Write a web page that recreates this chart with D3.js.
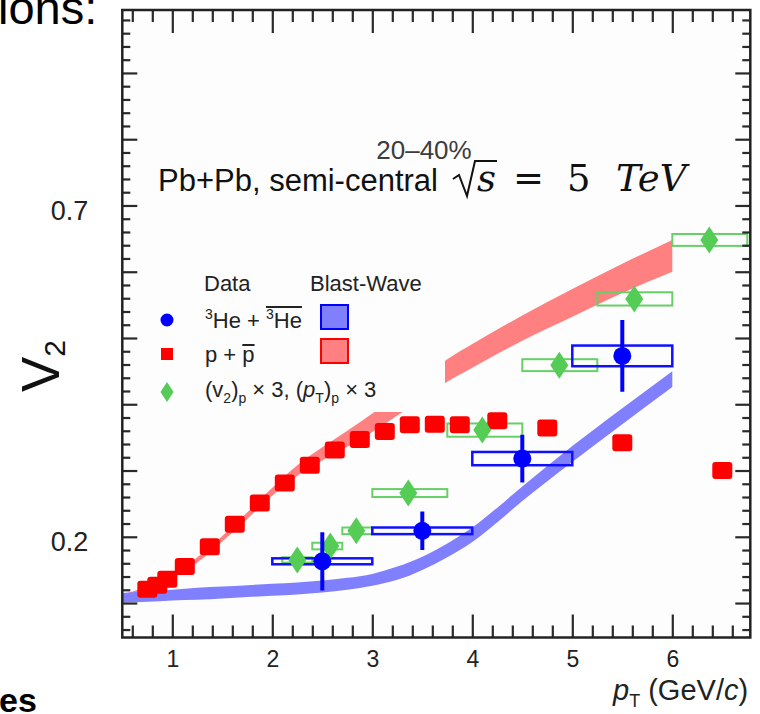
<!DOCTYPE html>
<html>
<head>
<meta charset="utf-8">
<script src="https://cdn.jsdelivr.net/npm/d3@7"></script>
<style>
  html, body { margin: 0; padding: 0; background: #fff; }
  svg { display: block; font-family: "Liberation Sans", Arial, Helvetica, sans-serif; }
</style>
</head>
<body>
<svg id="chart" width="760" height="714"></svg>
<script>
// ---- proton v2 (p + pbar) ----
const protonPt = [0.75, 0.85, 0.95, 1.125, 1.375, 1.625, 1.875, 2.125, 2.375, 2.625, 2.875, 3.125, 3.375, 3.625, 3.875, 4.25, 4.75, 5.5, 6.5];
const protonV2 = [0.121, 0.127, 0.136, 0.155, 0.185, 0.219, 0.251, 0.281, 0.308, 0.331, 0.347, 0.359, 0.369, 0.370, 0.369, 0.375, 0.364, 0.342, 0.300];

// ---- 3He + 3Hebar v2 ----
const heliumPt   = [2.5, 3.5, 4.5, 5.5];
const heliumV2   = [0.163, 0.209, 0.318, 0.473];
const heliumStat = [0.044, 0.029, 0.036, 0.054];
const heliumSys  = [0.0045, 0.005, 0.010, 0.0156];
const heliumBinLo = [2, 3, 4, 5];
const heliumBinHi = [3, 4, 5, 6];

// ---- proton v2 and pT scaled by 3 ----
const scaledPt    = [2.25, 2.58, 2.84, 3.36, 4.10, 4.87, 5.62, 6.37];
const scaledV2    = [0.165, 0.186, 0.209, 0.266, 0.361, 0.459, 0.559, 0.648];
const scaledSys   = [0.004, 0.005, 0.005, 0.006, 0.010, 0.009, 0.010, 0.009];
const scaledBinLo = [2.1, 2.4, 2.7, 3.0, 3.75, 4.5, 5.25, 6.0];
const scaledBinHi = [2.4, 2.7, 3.0, 3.75, 4.5, 5.25, 6.0, 6.75];

// ---- Blast-Wave bands ----
const bwProtonPt = [0.5, 0.75, 1.0, 1.25, 1.5, 1.75, 2.0, 2.25, 2.5, 2.75, 3.0, 3.25, 3.5, 3.75, 4.0, 4.5, 5.0, 5.5, 6.0];
const bwProtonLo = [0.107, 0.119, 0.137, 0.161, 0.193, 0.227, 0.262, 0.292, 0.315, 0.336, 0.358, 0.383, 0.408, 0.434, 0.455, 0.496, 0.532, 0.568, 0.600];
const bwProtonHi = [0.113, 0.125, 0.143, 0.169, 0.201, 0.237, 0.274, 0.308, 0.335, 0.360, 0.386, 0.413, 0.440, 0.468, 0.491, 0.534, 0.574, 0.612, 0.648];

const bwHeliumPt = [0.5, 0.75, 1.0, 1.25, 1.5, 1.75, 2.0, 2.25, 2.5, 2.75, 3.0, 3.25, 3.5, 3.75, 4.0, 4.25, 4.5, 5.0, 5.5, 6.0];
const bwHeliumLo = [0.101, 0.102, 0.104, 0.105, 0.107, 0.109, 0.111, 0.113, 0.116, 0.120, 0.126, 0.135, 0.150, 0.169, 0.192, 0.222, 0.254, 0.313, 0.370, 0.426];
const bwHeliumHi = [0.115, 0.118, 0.120, 0.123, 0.125, 0.127, 0.129, 0.131, 0.134, 0.138, 0.144, 0.155, 0.170, 0.190, 0.214, 0.244, 0.276, 0.337, 0.394, 0.450];

// ---- axis ticks ----
const xMajorTicks = [1, 2, 3, 4, 5, 6];
const yMajorTicks = [0.1, 0.2, 0.3, 0.4, 0.5, 0.6, 0.7, 0.8, 0.9];
const yTickLabels = [0.2, 0.7];

const svg = d3.select("#chart");

const x = d3.scaleLinear().domain([0.5, 6.78]).range([122.3, 750.3]);
const y = d3.scaleLinear().domain([0.048, 0.995]).range([637.5, 10]);

const [fx0, fx1] = x.range();
const [fy0, fy1] = y.range();

svg.append("defs").append("clipPath").attr("id", "plotClip")
  .append("rect").attr("x", fx0).attr("y", fy1).attr("width", fx1 - fx0).attr("height", fy0 - fy1);

const plot = svg.append("g").attr("clip-path", "url(#plotClip)");
plot.append("rect").attr("x", fx0).attr("y", fy1).attr("width", fx1 - fx0).attr("height", fy0 - fy1).attr("fill", "#fdfdfd");

// Blast-Wave bands
const band = d3.area()
  .x(d => x(d.pt)).y0(d => y(d.lo)).y1(d => y(d.hi))
  .curve(d3.curveMonotoneX);

const protonBand = bwProtonPt.map((pt, i) => ({ pt, lo: bwProtonLo[i], hi: bwProtonHi[i] }));
const heliumBand = bwHeliumPt.map((pt, i) => ({ pt, lo: bwHeliumLo[i], hi: bwHeliumHi[i] }));

plot.append("path").datum(protonBand).attr("d", band).attr("fill", "#ff8080");
plot.append("path").datum(heliumBand).attr("d", band).attr("fill", "#8080ff");

// legend panel (opaque, covers the band behind it)
const legend = svg.append("g");
legend.append("rect").attr("x", 150).attr("y", 262).attr("width", 295).attr("height", 150).attr("fill", "#fdfdfd");

// scaled-proton systematic boxes
const scaled = scaledPt.map((pt, i) => ({ pt, v: scaledV2[i], s: scaledSys[i], lo: scaledBinLo[i], hi: scaledBinHi[i] }));
plot.append("g").selectAll("rect").data(scaled).join("rect")
  .attr("x", d => x(d.lo)).attr("width", d => x(d.hi) - x(d.lo))
  .attr("y", d => y(d.v + d.s)).attr("height", d => y(d.v - d.s) - y(d.v + d.s))
  .attr("fill", "none").attr("stroke", "#66d066").attr("stroke-width", 2);

// helium systematic boxes
const helium = heliumPt.map((pt, i) => ({ pt, v: heliumV2[i], e: heliumStat[i], s: heliumSys[i], lo: heliumBinLo[i], hi: heliumBinHi[i] }));
plot.append("g").selectAll("rect").data(helium).join("rect")
  .attr("x", d => x(d.lo)).attr("width", d => x(d.hi) - x(d.lo))
  .attr("y", d => y(d.v + d.s)).attr("height", d => y(d.v - d.s) - y(d.v + d.s))
  .attr("fill", "none").attr("stroke", "#1010ff").attr("stroke-width", 2.5);

// proton markers
const protons = protonPt.map((pt, i) => ({ pt, v: protonV2[i] }));
plot.append("g").selectAll("rect").data(protons).join("rect")
  .attr("x", d => x(d.pt) - 10).attr("y", d => y(d.v) - 8.5)
  .attr("width", 20).attr("height", 17).attr("rx", 3)
  .attr("fill", "#ff0000");

// scaled-proton diamonds
const diamond = (w, h) => `M0,${-h / 2}L${w / 2},0L0,${h / 2}L${-w / 2},0Z`;
plot.append("g").selectAll("path").data(scaled).join("path")
  .attr("transform", d => `translate(${x(d.pt)},${y(d.v)})`)
  .attr("d", diamond(18, 27)).attr("fill", "#55cc55");

// helium statistical error bars and markers
plot.append("g").selectAll("line").data(helium).join("line")
  .attr("x1", d => x(d.pt)).attr("x2", d => x(d.pt))
  .attr("y1", d => y(d.v + d.e)).attr("y2", d => y(d.v - d.e))
  .attr("stroke", "#0000ff").attr("stroke-width", 4);
plot.append("g").selectAll("circle").data(helium).join("circle")
  .attr("cx", d => x(d.pt)).attr("cy", d => y(d.v)).attr("r", 9)
  .attr("fill", "#0000ff");

// ---- axes ----
const tickStyle = g => {
  g.select(".domain").remove();
  g.selectAll(".tick line").attr("stroke", "#2a2a2a").attr("stroke-width", 2.2);
  g.attr("font-family", null).attr("font-size", null);
};
const xMinor = d3.range(0.6, 6.78, 0.2).filter(v => Math.abs(v - Math.round(v)) > 1e-6);
const yMinor = d3.range(0.06, 0.99, 0.02).filter(v => Math.abs(v * 10 - Math.round(v * 10)) > 1e-6);

svg.append("g").attr("transform", `translate(0,${fy0})`)
  .call(d3.axisBottom(x).tickValues(xMinor).tickSize(-12).tickFormat(""))
  .call(tickStyle);
svg.append("g").attr("transform", `translate(0,${fy0})`)
  .call(d3.axisBottom(x).tickValues(xMajorTicks).tickSize(-23).tickPadding(13).tickFormat(d3.format("d")))
  .call(tickStyle)
  .call(g => g.selectAll("text").attr("font-size", 23).attr("fill", "#222").attr("dy", "0.72em"));
svg.append("g").attr("transform", `translate(0,${fy1})`)
  .call(d3.axisTop(x).tickValues(xMinor).tickSize(-12).tickFormat(""))
  .call(tickStyle);
svg.append("g").attr("transform", `translate(0,${fy1})`)
  .call(d3.axisTop(x).tickValues(xMajorTicks).tickSize(-23).tickFormat(""))
  .call(tickStyle);

svg.append("g").attr("transform", `translate(${fx0},0)`)
  .call(d3.axisLeft(y).tickValues(yMinor).tickSize(-8).tickFormat(""))
  .call(tickStyle);
svg.append("g").attr("transform", `translate(${fx0},0)`)
  .call(d3.axisLeft(y).tickValues(yMajorTicks).tickSize(-15).tickPadding(34)
    .tickFormat(d => yTickLabels.some(v => Math.abs(v - d) < 1e-9) ? d3.format(".1f")(d) : ""))
  .call(tickStyle)
  .call(g => g.selectAll("text").attr("font-size", 27).attr("fill", "#222").attr("transform", "translate(0,5)"));
svg.append("g").attr("transform", `translate(${fx1},0)`)
  .call(d3.axisRight(y).tickValues(yMinor).tickSize(-8).tickFormat(""))
  .call(tickStyle);
svg.append("g").attr("transform", `translate(${fx1},0)`)
  .call(d3.axisRight(y).tickValues(yMajorTicks).tickSize(-15).tickFormat(""))
  .call(tickStyle);

// frame
svg.append("rect").attr("x", fx0).attr("y", fy1).attr("width", fx1 - fx0).attr("height", fy0 - fy1)
  .attr("fill", "none").attr("stroke", "#222").attr("stroke-width", 2.5);

// ---- axis titles ----
const xTitle = svg.append("text").attr("x", 613).attr("y", 700).attr("font-size", 29).attr("fill", "#222");
xTitle.append("tspan").attr("font-style", "italic").text("p");
xTitle.append("tspan").attr("font-size", 18).attr("dy", 7).text("T");
xTitle.append("tspan").attr("dy", -7).text(" (GeV/");
xTitle.append("tspan").attr("font-style", "italic").text("c");
xTitle.append("tspan").text(")");

const yTitle = svg.append("text").attr("transform", "translate(59,366) rotate(-90)")
  .attr("text-anchor", "middle").attr("font-size", 53).attr("fill", "#111");
yTitle.append("tspan").text("V");
yTitle.append("tspan").attr("font-size", 30).attr("dy", 6).text("2");

// ---- annotation ----
svg.append("text").attr("x", 424).attr("y", 159).attr("text-anchor", "middle")
  .attr("font-size", 26).attr("fill", "#3c3c3c").text("20\u201340%");
svg.append("text").attr("x", 158).attr("y", 191).attr("font-size", 31).attr("fill", "#111")
  .text("Pb+Pb, semi-central");

// sqrt(s) = 5 TeV, set as a formula
const math = svg.append("g").attr("font-family", "'DejaVu Serif', 'Liberation Serif', serif")
  .attr("font-size", 37).attr("fill", "#111");
math.append("path").attr("d", "M453,179 L459,175 L467,196 L475,161 L497,161")
  .attr("fill", "none").attr("stroke", "#111").attr("stroke-width", 2).attr("stroke-linejoin", "miter");
math.append("text").attr("x", 477).attr("y", 191).attr("font-style", "italic").text("s");
math.append("text").attr("x", 513).attr("y", 191).text("=");
math.append("text").attr("x", 567).attr("y", 191).text("5");
math.append("text").attr("x", 616).attr("y", 191).attr("font-style", "italic").text("TeV");

// ---- legend ----
legend.append("text").attr("x", 204).attr("y", 291).attr("font-size", 22).attr("fill", "#222").text("Data");
legend.append("text").attr("x", 310).attr("y", 291).attr("font-size", 22).attr("fill", "#222").text("Blast-Wave");

legend.append("circle").attr("cx", 167).attr("cy", 320).attr("r", 6.5).attr("fill", "#0000ff");
const heLabel = legend.append("text").attr("x", 205).attr("y", 328).attr("font-size", 22).attr("fill", "#222");
heLabel.append("tspan").attr("font-size", 14).attr("dy", -9).text("3");
heLabel.append("tspan").attr("dy", 9).text("He + ");
const heBar = heLabel.append("tspan");
heBar.append("tspan").attr("font-size", 14).attr("dy", -9).text("3");
heBar.append("tspan").attr("dy", 9).text("He");
legend.append("rect").attr("x", 321).attr("y", 305).attr("width", 27).attr("height", 24)
  .attr("fill", "#8080ff").attr("stroke", "#0000ff").attr("stroke-width", 2);

legend.append("rect").attr("x", 161).attr("y", 348).attr("width", 12).attr("height", 12).attr("fill", "#ff0000");
const pLabel = legend.append("text").attr("x", 205).attr("y", 362).attr("font-size", 22).attr("fill", "#222");
pLabel.append("tspan").text("p + ");
pLabel.append("tspan").text("p");
legend.append("rect").attr("x", 321).attr("y", 339).attr("width", 27).attr("height", 24)
  .attr("fill", "#ff8080").attr("stroke", "#ff0000").attr("stroke-width", 2);

legend.append("path").attr("transform", "translate(167,392)").attr("d", diamond(13, 20)).attr("fill", "#55cc55");
const sLabel = legend.append("text").attr("x", 205).attr("y", 397).attr("font-size", 22).attr("fill", "#222");
sLabel.append("tspan").text("(v");
sLabel.append("tspan").attr("font-size", 14).attr("dy", 6).text("2");
sLabel.append("tspan").attr("dy", -6).text(")");
sLabel.append("tspan").attr("font-size", 14).attr("dy", 6).text("p");
sLabel.append("tspan").attr("dy", -6).text(" \u00D7 3, (");
sLabel.append("tspan").attr("font-style", "italic").text("p");
sLabel.append("tspan").attr("font-size", 14).attr("dy", 6).text("T");
sLabel.append("tspan").attr("dy", -6).text(")");
sLabel.append("tspan").attr("font-size", 14).attr("dy", 6).text("p");
sLabel.append("tspan").attr("dy", -6).text(" \u00D7 3");

// overlines for the antiparticle names
function overline(textSel, fromChar, toChar, yLine) {
  const node = textSel.node();
  const a = node.getStartPositionOfChar(fromChar).x;
  const b = node.getEndPositionOfChar(toChar).x;
  legend.append("line").attr("x1", a).attr("x2", b).attr("y1", yLine).attr("y2", yLine)
    .attr("stroke", "#222").attr("stroke-width", 2);
}
// "3He + 3He": characters 6..8 are the second "3He"
overline(heLabel, 6, 8, 307);
// "p + p": character 4 is the second "p"
overline(pLabel, 4, 4, 345);

// ---- surrounding slide text ----
svg.append("text").attr("x", -2).attr("y", 24).attr("font-size", 47).attr("fill", "#000").text("ions:");
svg.append("text").attr("x", -1).attr("y", 712).attr("font-size", 34).attr("font-weight", "bold").attr("fill", "#000").text("es");
</script>
</body>
</html>
